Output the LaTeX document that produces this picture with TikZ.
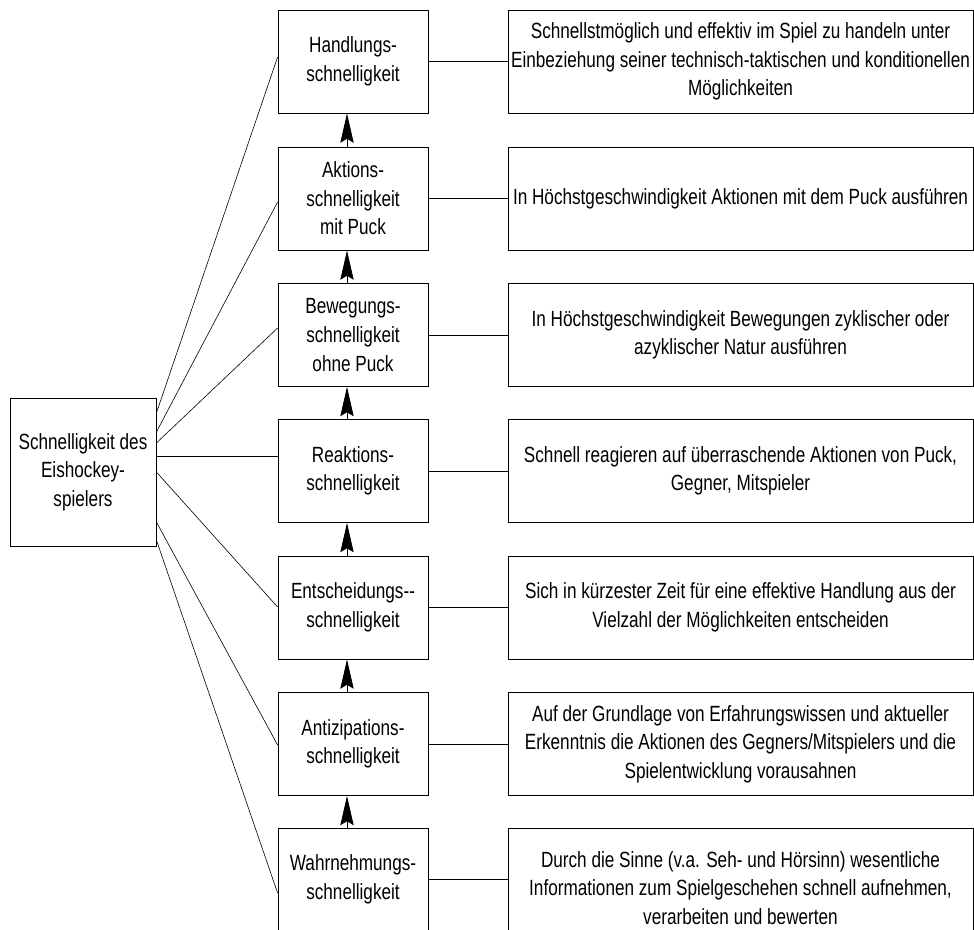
\documentclass[tikz,border=0pt]{standalone}
\usepackage{fontspec}
\setmainfont{Liberation Sans}[FakeStretch=0.78]
\usetikzlibrary{arrows.meta}

\begin{document}
\begin{tikzpicture}[
  x=0.75pt, y=-0.75pt,
  font=\fontsize{16.5}{21.4}\selectfont,
  box/.style={draw, line width=0.6pt, align=center, inner sep=0pt},
  stage/.style={box, minimum width=112.5pt, minimum height=77.25pt},
  desc/.style={box, minimum width=348.75pt, minimum height=77.25pt},
  fan/.style={line width=0.45pt},
  link/.style={line width=0.6pt},
  up/.style={-{Stealth[length=22pt, width=10pt, inset=3pt]}, line width=0.6pt}
]
\clip (0,0) rectangle (974,929);

% ---------- Overall quality ----------
\node[box, minimum width=109.5pt, minimum height=111pt] (hub) at (83,472)
  {Schnelligkeit des\\ Eishockey-\\ spielers};

% ---------- Components ----------
\node[stage] (m1) at (353,61.5)  {Handlungs-\\ schnelligkeit};
\node[stage] (m2) at (353,198.5) {Aktions-\\ schnelligkeit\\ mit Puck};
\node[stage] (m3) at (353,335)   {Bewegungs-\\ schnelligkeit\\ ohne Puck};
\node[stage] (m4) at (353,471)   {Reaktions-\\ schnelligkeit};
\node[stage] (m5) at (353,607.5) {Entscheidungs-{}-\\ schnelligkeit};
\node[stage] (m6) at (353,744)   {Antizipations-\\ schnelligkeit};
\node[stage] (m7) at (353,879.5) {Wahrnehmungs-\\ schnelligkeit};

% ---------- Definitions ----------
\node[desc] (r1) at (740.5,61.5)
  {Schnellstmöglich und effektiv im Spiel zu handeln unter\\ Einbeziehung seiner technisch-taktischen und konditionellen\\ Möglichkeiten};
\node[desc] (r2) at (740.5,198.5)
  {In Höchstgeschwindigkeit Aktionen mit dem Puck ausführen};
\node[desc] (r3) at (740.5,335)
  {In Höchstgeschwindigkeit Bewegungen zyklischer oder\\ azyklischer Natur ausführen};
\node[desc] (r4) at (740.5,471)
  {Schnell reagieren auf überraschende Aktionen von Puck,\\ Gegner, Mitspieler};
\node[desc] (r5) at (740.5,607.5)
  {Sich in kürzester Zeit für eine effektive Handlung aus der\\ Vielzahl der Möglichkeiten entscheiden};
\node[desc] (r6) at (740.5,744)
  {Auf der Grundlage von Erfahrungswissen und aktueller\\ Erkenntnis die Aktionen des Gegners/Mitspielers und die\\ Spielentwicklung vorausahnen};
\node[desc, minimum height=90pt] (r7) at (740.5,888)
  {Durch die Sinne (v.a. Seh- und Hörsinn) wesentliche\\ Informationen zum Spielgeschehen schnell aufnehmen,\\ verarbeiten und bewerten};

% ---------- Fan from the overall box ----------
\draw[fan] (hub.east |- 0,413) -- (m1.west |- 0,57);
\draw[fan] (hub.east |- 0,432) -- (m2.west |- 0,202);
\draw[fan] (hub.east |- 0,443) -- (m3.west |- 0,328);
\draw[fan] (hub.east |- 0,456) -- (m4.west |- 0,456);
\draw[fan] (hub.east |- 0,472) -- (m5.west |- 0,607);
\draw[fan] (hub.east |- 0,522) -- (m6.west |- 0,745);
\draw[fan] (hub.east |- 0,540) -- (m7.west |- 0,893);

% ---------- Components to definitions ----------
\draw[link] (m1.east) -- (r1.west |- m1.east);
\draw[link] (m2.east) -- (r2.west |- m2.east);
\draw[link] (m3.east) -- (r3.west |- m3.east);
\draw[link] (m4.east) -- (r4.west |- m4.east);
\draw[link] (m5.east) -- (r5.west |- m5.east);
\draw[link] (m6.east) -- (r6.west |- m6.east);
\draw[link] (m7.east) -- (r7.west |- m7.east);

% ---------- Build-up arrows ----------
\draw[up] ([xshift=-4.5pt]m2.north) -- ([xshift=-4.5pt]m1.south);
\draw[up] ([xshift=-4.5pt]m3.north) -- ([xshift=-4.5pt]m2.south);
\draw[up] ([xshift=-4.5pt]m4.north) -- ([xshift=-4.5pt]m3.south);
\draw[up] ([xshift=-4.5pt]m5.north) -- ([xshift=-4.5pt]m4.south);
\draw[up] ([xshift=-4.5pt]m6.north) -- ([xshift=-4.5pt]m5.south);
\draw[up] ([xshift=-4.5pt]m7.north) -- ([xshift=-4.5pt]m6.south);
\end{tikzpicture}
\end{document}
